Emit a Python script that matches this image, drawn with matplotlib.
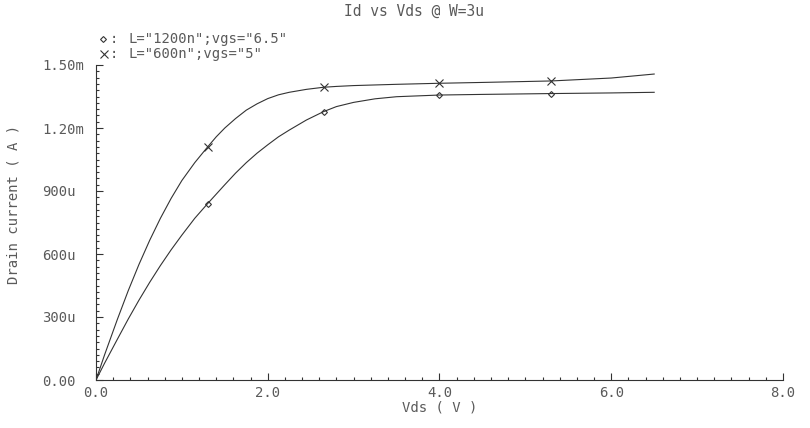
import numpy as np
import matplotlib
matplotlib.use("Agg")
import matplotlib.pyplot as plt
from matplotlib.ticker import MultipleLocator

# data (Vds in V, Id in A)
vds = [0.0, 0.1, 0.25, 0.375, 0.5, 0.625, 0.75, 0.875, 1.0, 1.15, 1.3,
       1.4, 1.5, 1.625, 1.75, 1.875, 2.0, 2.125, 2.25, 2.45, 2.65, 2.8,
       3.0, 3.25, 3.5, 4.0, 4.5, 5.3, 6.0, 6.5]
id_1200n = [0.0, 0.08e-3, 0.195e-3, 0.29e-3, 0.38e-3, 0.465e-3, 0.545e-3,
            0.62e-3, 0.69e-3, 0.77e-3, 0.84e-3, 0.885e-3, 0.93e-3,
            0.985e-3, 1.035e-3, 1.08e-3, 1.12e-3, 1.158e-3, 1.19e-3,
            1.238e-3, 1.278e-3, 1.302e-3, 1.322e-3, 1.339e-3, 1.349e-3,
            1.357e-3, 1.360e-3, 1.364e-3, 1.367e-3, 1.370e-3]
id_600n = [0.0, 0.12e-3, 0.29e-3, 0.425e-3, 0.55e-3, 0.665e-3, 0.77e-3,
           0.865e-3, 0.95e-3, 1.035e-3, 1.11e-3, 1.158e-3, 1.20e-3,
           1.245e-3, 1.285e-3, 1.315e-3, 1.34e-3, 1.358e-3, 1.37e-3,
           1.384e-3, 1.394e-3, 1.398e-3, 1.402e-3, 1.405e-3, 1.408e-3,
           1.413e-3, 1.417e-3, 1.424e-3, 1.438e-3, 1.457e-3]
marker_idx = [10, 20, 25, 27]

label_1200n = 'L="1200n";vgs="6.5"'
label_600n = 'L="600n";vgs="5"'
title = "Id vs Vds @ W=3u"
xticks = [0.0, 2.0, 4.0, 6.0, 8.0]
xtick_labels = ["0.0", "2.0", "4.0", "6.0", "8.0"]
yticks = [0.0, 300e-6, 600e-6, 900e-6, 1.2e-3, 1.5e-3]
ytick_labels = ["0.00", "300u", "600u", "900u", "1.20m", "1.50m"]

FONT = "DejaVu Sans Mono"
TXT = "#5a5a5a"
LINE = "#333333"

fig = plt.figure(figsize=(8.1, 4.28), dpi=100)
ax = fig.add_axes([96 / 810, 48 / 428, 687 / 810, 315 / 428])

ax.plot(vds, id_1200n, color=LINE, lw=0.8, marker="D", ms=3,
        mfc="none", mec=LINE, mew=0.8, markevery=marker_idx)
ax.plot(vds, id_600n, color=LINE, lw=0.8, marker="x", ms=6,
        mec=LINE, mew=0.8, markevery=marker_idx)

ax.set_xlim(0, 8)
ax.set_ylim(0, 1.5e-3)
for s in ("top", "right"):
    ax.spines[s].set_visible(False)
for s in ("left", "bottom"):
    ax.spines[s].set_color(LINE)
    ax.spines[s].set_linewidth(0.8)

ax.set_xticks(xticks)
ax.set_xticklabels(xtick_labels, fontfamily=FONT, fontsize=10, color=TXT)
ax.set_yticks(yticks)
ax.set_yticklabels(ytick_labels, fontfamily=FONT, fontsize=10, color=TXT,
                   ha="left")
ax.xaxis.set_minor_locator(MultipleLocator(0.2))
ax.yaxis.set_minor_locator(MultipleLocator(30e-6))
ax.tick_params(which="both", direction="in", color=LINE, width=0.8)
ax.tick_params(which="major", length=5)
ax.tick_params(which="minor", length=2.5)
ax.tick_params(axis="x", which="major", pad=4)
ax.tick_params(axis="y", which="major", pad=39)

ax.set_xlabel("Vds ( V )", fontfamily=FONT, fontsize=10, color=TXT,
              labelpad=1)
fig.text(14 / 810, 0.5 + 10 / 428, "Drain current ( A )", rotation=90,
         ha="center", va="center", fontfamily=FONT, fontsize=10, color=TXT)
fig.text(414 / 810, 1 - 11 / 428, title, ha="center", va="center",
         fontfamily=FONT, fontsize=10.5, color=TXT)

# legend drawn by hand at top left
fig.lines.append(plt.Line2D([103 / 810], [1 - 39 / 428], marker="D", ms=3,
                            mfc="none", mec=LINE, mew=0.8,
                            transform=fig.transFigure))
fig.lines.append(plt.Line2D([104 / 810], [1 - 54 / 428], marker="x", ms=6,
                            mec=LINE, mew=0.8, transform=fig.transFigure))
fig.text(110 / 810, 1 - 39 / 428, ":", ha="left", va="center",
         fontfamily=FONT, fontsize=10, color=TXT)
fig.text(110 / 810, 1 - 54 / 428, ":", ha="left", va="center",
         fontfamily=FONT, fontsize=10, color=TXT)
fig.text(128 / 810, 1 - 39 / 428, label_1200n, ha="left", va="center",
         fontfamily=FONT, fontsize=10, color=TXT)
fig.text(128 / 810, 1 - 54 / 428, label_600n, ha="left", va="center",
         fontfamily=FONT, fontsize=10, color=TXT)

fig.savefig("out.png", dpi=100)
